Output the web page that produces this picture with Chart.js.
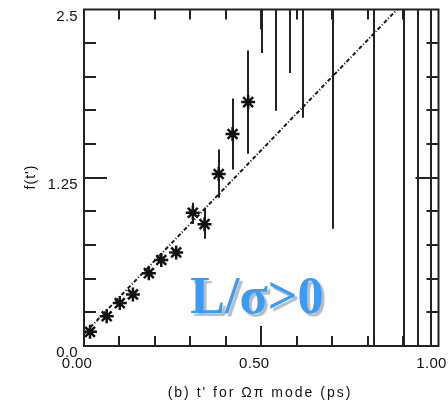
<!DOCTYPE html>
<html>
<head>
<meta charset="utf-8">
<script src="https://cdn.jsdelivr.net/npm/chart.js@4"></script>
<style>
  html, body { margin: 0; padding: 0; background: #fff; }
  #wrap { width: 448px; height: 403px; }
</style>
</head>
<body>
<div id="wrap"><canvas id="grafica" width="448" height="403"></canvas></div>
<script>
// ---- datos ----
const ptX = [0.017, 0.064, 0.101, 0.138, 0.183, 0.218, 0.260, 0.307, 0.340, 0.380, 0.419, 0.463];
const ptY = [0.105, 0.221, 0.319, 0.383, 0.541, 0.639, 0.695, 0.990, 0.905, 1.278, 1.575, 1.812];

// barras de error (las ultimas se salen del rango)
const errX  = [0.307, 0.340, 0.380, 0.419, 0.463, 0.502, 0.541, 0.581, 0.618, 0.702, 0.819, 0.903, 0.942, 0.980];
const errLo = [0.907, 0.797, 1.101, 1.311, 1.429, 2.176, 1.748, 2.028, 1.696, 0.872, -0.5, -0.5, -0.5, -0.5];
const errHi = [1.064, 1.027, 1.460, 1.839, 2.196, 3.0, 3.0, 3.0, 3.0, 3.0, 3.0, 3.0, 3.0, 3.0];

// recta de ajuste
const fitX = [0.0, 0.883];
const fitY = [0.09, 2.5];

const xTicks = [0.1, 0.2, 0.3, 0.4, 0.5, 0.6, 0.7, 0.8, 0.9];
const yTicks = [0.25, 0.5, 0.75, 1.0, 1.25, 1.5, 1.75, 2.0, 2.25];
const xTickLabels = {'0': '0.00', '0.5': '0.50', '1': '1.00'};
const yTickLabels = {'0': '0.0', '1.25': '1.25', '2.5': '2.5'};
const xMajor = [0.5];
const yMajor = [1.25];

const xTitle = "(b) t' for \u03A9\u03C0 mode (ps)";
const yTitle = "f(t')";
const nota = "L/\u03C3>0";

function pares(xs, ys) {
    return xs.map((x, i) => ({x: x, y: ys[i]}));
}

const ejes = {
    id: 'ejes',
    beforeDatasetsDraw(chart) {
        const ctx = chart.ctx, a = chart.chartArea;
        const sx = chart.scales.x, sy = chart.scales.y;
        ctx.save();
        ctx.beginPath();
        ctx.rect(a.left, a.top, a.right - a.left, a.bottom - a.top);
        ctx.clip();
        ctx.strokeStyle = '#222';
        ctx.lineWidth = 2;
        for (let i = 0; i < errX.length; i++) {
            const px = Math.round(sx.getPixelForValue(errX[i]));
            ctx.beginPath();
            ctx.moveTo(px, sy.getPixelForValue(errLo[i]));
            ctx.lineTo(px, sy.getPixelForValue(errHi[i]));
            ctx.stroke();
        }
        ctx.restore();
    },
    afterDraw(chart) {
        const ctx = chart.ctx, a = chart.chartArea;
        const sx = chart.scales.x, sy = chart.scales.y;
        ctx.save();
        ctx.strokeStyle = '#222';
        ctx.lineWidth = 2;
        ctx.strokeRect(a.left, a.top, a.right - a.left, a.bottom - a.top);

        // marcas hacia dentro en los cuatro lados
        ctx.beginPath();
        xTicks.forEach(v => {
            const px = Math.round(sx.getPixelForValue(v));
            const len = xMajor.includes(v) ? 20 : 10;
            ctx.moveTo(px, a.bottom); ctx.lineTo(px, a.bottom - len);
            ctx.moveTo(px, a.top); ctx.lineTo(px, a.top + len);
        });
        yTicks.forEach(v => {
            const py = Math.round(sy.getPixelForValue(v));
            const len = yMajor.includes(v) ? 23 : 12;
            ctx.moveTo(a.left, py); ctx.lineTo(a.left + len, py);
            ctx.moveTo(a.right, py); ctx.lineTo(a.right - len, py);
        });
        ctx.stroke();

        // etiquetas
        ctx.fillStyle = '#111';
        ctx.font = '15px "Liberation Sans", Arial, sans-serif';
        ctx.letterSpacing = '0.3px';
        ctx.textBaseline = 'middle';
        ctx.textAlign = 'right';
        Object.keys(yTickLabels).forEach(k => {
            ctx.fillText(yTickLabels[k], 78, sy.getPixelForValue(parseFloat(k)) + 7);
        });
        ctx.textAlign = 'center';
        Object.keys(xTickLabels).forEach(k => {
            ctx.fillText(xTickLabels[k], sx.getPixelForValue(parseFloat(k)) - 7, 364);
        });

        ctx.font = '14px "Liberation Sans", Arial, sans-serif';
        ctx.letterSpacing = '2px';
        ctx.fillText(xTitle, 260, 393);
        ctx.letterSpacing = '1px';
        ctx.save();
        ctx.translate(31, 177);
        ctx.rotate(-Math.PI / 2);
        ctx.fillText(yTitle, 0, 0);
        ctx.restore();

        // texto azul con sombra
        ctx.letterSpacing = '0px';
        ctx.textAlign = 'left';
        ctx.textBaseline = 'alphabetic';
        ctx.font = 'bold 52px "Liberation Serif", "Times New Roman", serif';
        ctx.shadowColor = 'rgba(140,140,140,0.6)';
        ctx.shadowOffsetX = 3;
        ctx.shadowOffsetY = 3;
        ctx.shadowBlur = 1;
        ctx.fillStyle = '#3a9bf8';
        ctx.fillText(nota, sx.getPixelForValue(0.3), sy.getPixelForValue(0.243));
        ctx.restore();
    }
};

const config = {
    type: 'scatter',
    data: {
        datasets: [
            {
                data: pares(fitX, fitY),
                showLine: true,
                pointRadius: 0,
                borderColor: '#1a1a1a',
                borderWidth: 2,
                borderDash: [4, 2, 1, 2]
            },
            {
                data: pares(ptX, ptY),
                showLine: false,
                pointStyle: 'star',
                pointRadius: 7,
                borderWidth: 2.5,
                borderColor: '#111',
                backgroundColor: '#111'
            }
        ]
    },
    options: {
        responsive: false,
        animation: false,
        devicePixelRatio: 1,
        layout: { padding: { left: 84, top: 7, right: 8, bottom: 57 } },
        plugins: { legend: { display: false }, tooltip: { enabled: false } },
        scales: {
            x: { type: 'linear', min: 0, max: 1, display: false },
            y: { type: 'linear', min: 0, max: 2.5, display: false }
        }
    },
    plugins: [ejes]
};

const grafica = new Chart(document.getElementById('grafica'), config);
</script>
</body>
</html>
